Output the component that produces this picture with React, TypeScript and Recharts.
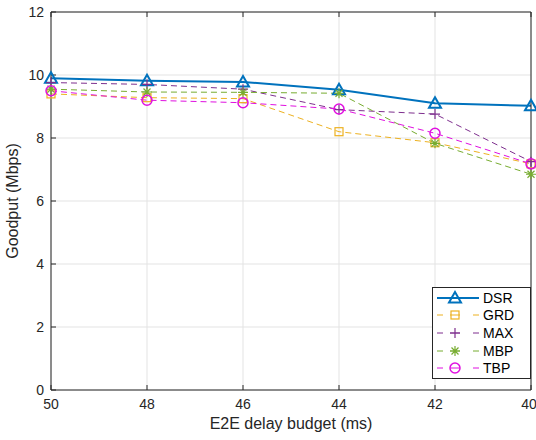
import { LineChart, Line, XAxis, YAxis, CartesianGrid } from 'recharts';

const budgets = [50, 48, 46, 44, 42, 40];
const dsr = [9.9, 9.82, 9.78, 9.53, 9.1, 9.02];
const grd = [9.4, 9.28, 9.25, 8.2, 7.85, 7.18];
const maxv = [9.76, 9.7, 9.55, 8.9, 8.76, 7.25];
const mbp = [9.55, 9.46, 9.45, 9.42, 7.83, 6.85];
const tbp = [9.5, 9.2, 9.12, 8.92, 8.15, 7.18];
const xTicks = [50, 48, 46, 44, 42, 40];
const yTicks = [0, 2, 4, 6, 8, 10, 12];

const data = budgets.map((b, i) => ({
  budget: b,
  DSR: dsr[i],
  GRD: grd[i],
  MAX: maxv[i],
  MBP: mbp[i],
  TBP: tbp[i],
}));

const AXIS = '#262626';
const FONT = '"Liberation Sans", Arial, sans-serif';

type Shape = 'tri' | 'sq' | 'plus' | 'star' | 'circ';

const series: { key: string; color: string; shape: Shape; dash?: string; width: number }[] = [
  { key: 'DSR', color: '#0072BD', shape: 'tri', width: 2 },
  { key: 'GRD', color: '#EDB120', shape: 'sq', dash: '6 4', width: 1 },
  { key: 'MAX', color: '#7E2F8E', shape: 'plus', dash: '6 4', width: 1 },
  { key: 'MBP', color: '#77AC30', shape: 'star', dash: '6 4', width: 1 },
  { key: 'TBP', color: '#E010E0', shape: 'circ', dash: '6 4', width: 1 },
];

const marker = (shape: Shape, cx: number, cy: number, color: string, k?: string) => {
  switch (shape) {
    case 'tri':
      return (
        <path key={k} d={`M${cx},${cy - 6} L${cx + 6},${cy + 4.5} L${cx - 6},${cy + 4.5} Z`}
          fill="none" stroke={color} strokeWidth={2} />
      );
    case 'sq':
      return <rect key={k} x={cx - 4} y={cy - 4} width={8} height={8} fill="none" stroke={color} strokeWidth={1.2} />;
    case 'plus':
      return (
        <path key={k} d={`M${cx - 5},${cy} H${cx + 5} M${cx},${cy - 5} V${cy + 5}`} stroke={color} strokeWidth={1.2} />
      );
    case 'star':
      return (
        <path key={k}
          d={`M${cx - 5},${cy} H${cx + 5} M${cx},${cy - 5} V${cy + 5} M${cx - 3.5},${cy - 3.5} L${cx + 3.5},${cy + 3.5} M${cx - 3.5},${cy + 3.5} L${cx + 3.5},${cy - 3.5}`}
          stroke={color} strokeWidth={1.2} />
      );
    default:
      return <circle key={k} cx={cx} cy={cy} r={5} fill="none" stroke={color} strokeWidth={1.5} />;
  }
};

const LegendBox = () => (
  <div style={{
    position: 'absolute', left: 432, top: 287, width: 97,
    border: `1px solid ${AXIS}`, background: '#fff', padding: '1px 0',
    fontFamily: FONT, fontSize: 14, color: '#000',
  }}>
    {series.map((s) => (
      <div key={s.key} style={{ display: 'flex', alignItems: 'center', height: 17.6 }}>
        <svg width={48} height={16} style={{ display: 'block' }}>
          <line x1={4} y1={8} x2={46} y2={8} stroke={s.color} strokeWidth={s.width}
            strokeDasharray={s.dash ? '6 7 10 13 7' : undefined} />
          {marker(s.shape, 22, 8, s.color)}
        </svg>
        <span style={{ marginLeft: 2 }}>{s.key}</span>
      </div>
    ))}
  </div>
);

export default function App() {
  return (
    <div style={{ position: 'fixed', left: 0, top: 0, width: 536, height: 440, background: '#fff' }}>
      <LineChart width={536} height={440} data={data} margin={{ top: 0, right: 0, left: 0, bottom: 0 }}>
        <CartesianGrid stroke="#E3E3E3" vertical horizontal />
        <XAxis
          dataKey="budget"
          type="number"
          domain={[40, 50]}
          reversed
          ticks={xTicks}
          height={50}
          stroke={AXIS}
          tickSize={-5}
          tickMargin={14}
          tick={{ fill: '#262626', fontSize: 14, fontFamily: FONT }}
          label={{
            content: ({ viewBox }: any) => (
              <text x={viewBox.x + viewBox.width / 2} y={viewBox.y + 39} textAnchor="middle"
                fill="#262626" fontSize={16} fontFamily={FONT}>
                E2E delay budget (ms)
              </text>
            ),
          }}
        />
        <XAxis
          xAxisId="top"
          orientation="top"
          dataKey="budget"
          type="number"
          domain={[40, 50]}
          reversed
          ticks={xTicks}
          height={12}
          stroke={AXIS}
          tickSize={-5}
          tick={{ fill: 'none', fontSize: 1 }}
        />
        <YAxis
          domain={[0, 12]}
          ticks={yTicks}
          width={51}
          stroke={AXIS}
          tickSize={-5}
          tickMargin={12}
          tick={{ fill: '#262626', fontSize: 14, fontFamily: FONT }}
          label={{
            content: ({ viewBox }: any) => (
              <text x={14} y={viewBox.y + viewBox.height / 2} transform={`rotate(-90 14 ${viewBox.y + viewBox.height / 2})`}
                textAnchor="middle" dominantBaseline="middle" fill="#262626" fontSize={16} fontFamily={FONT}>
                Goodput (Mbps)
              </text>
            ),
          }}
        />
        <YAxis
          yAxisId="right"
          orientation="right"
          domain={[0, 12]}
          ticks={yTicks}
          width={5}
          stroke={AXIS}
          tickSize={-5}
          tick={{ fill: 'none', fontSize: 1 }}
        />
        {series.map((s) => (
          <Line
            key={s.key}
            dataKey={s.key}
            type="linear"
            stroke={s.color}
            strokeWidth={s.width}
            strokeDasharray={s.dash}
            dot={(p: any) => marker(s.shape, p.cx, p.cy, s.color, `${s.key}-${p.index}`)}
            activeDot={false}
            isAnimationActive={false}
          />
        ))}
      </LineChart>
      <LegendBox />
    </div>
  );
}
